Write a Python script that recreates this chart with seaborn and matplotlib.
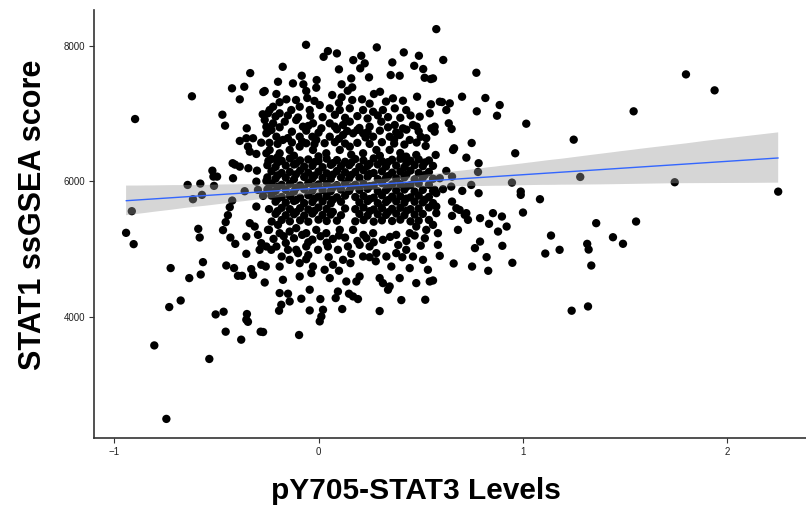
"""
STAT1 ssGSEA score vs pY705-STAT3 levels
========================================

Scatter of per-sample values with a linear fit (95% CI band), styled
after the ggplot2 "classic" look. Writes out.png (806x507 px).
"""

import matplotlib
matplotlib.use("Agg")  # non-interactive backend
import matplotlib.pyplot as plt
import pandas as pd
import seaborn as sns

# --------------------------------------------------------------------------- #
# Data (pY705-STAT3, STAT1 ssGSEA score)
# --------------------------------------------------------------------------- #
far_left = [
    (-0.897, 6922), (-0.913, 5560), (-0.941, 5240), (-0.904, 5073),
    (-0.640, 5948), (-0.578, 5968), (-0.514, 6071), (-0.519, 6159),
    (-0.496, 6071), (-0.511, 5934), (-0.614, 5737), (-0.570, 5801),
    (-0.588, 5299), (-0.581, 5171), (-0.723, 4719), (-0.632, 4571),
    (-0.576, 4624), (-0.565, 4807), (-0.674, 4240), (-0.730, 4143),
    (-0.803, 3576), (-0.744, 2490), (-0.503, 4034), (-0.464, 4074),
    (-0.454, 3779), (-0.378, 3661), (-0.534, 3376), (-0.350, 4040),
    (-0.353, 3956), (-0.345, 3925), (-0.283, 3779), (-0.619, 7258),
]

mid_left = [
    (-0.470, 6986), (-0.457, 6824), (-0.351, 6785), (-0.273, 6992),
    (-0.239, 7055), (-0.385, 6598), (-0.353, 6638), (-0.320, 6638),
    (-0.280, 6573), (-0.345, 6514), (-0.336, 6440), (-0.304, 6406),
    (-0.255, 6416), (-0.255, 6809), (-0.247, 6735), (-0.420, 6269),
    (-0.408, 6248), (-0.385, 6218), (-0.343, 6195), (-0.301, 6159),
    (-0.245, 6303), (-0.418, 6047), (-0.361, 5855), (-0.304, 5997),
    (-0.296, 5875), (-0.255, 6007), (-0.244, 5900), (-0.271, 5786),
    (-0.422, 5717), (-0.434, 5619), (-0.443, 5501), (-0.454, 5398),
    (-0.467, 5280), (-0.431, 5170), (-0.407, 5077), (-0.304, 5628),
    (-0.242, 5590), (-0.229, 5407), (-0.336, 5383), (-0.312, 5333),
    (-0.353, 5185), (-0.296, 5210), (-0.280, 5088), (-0.255, 5038),
    (-0.288, 4989), (-0.231, 4989), (-0.353, 4930), (-0.242, 5284),
    (-0.451, 4757), (-0.413, 4719), (-0.394, 4605), (-0.374, 4605),
    (-0.320, 4620), (-0.329, 4704), (-0.280, 4768), (-0.258, 4742),
    (-0.263, 4506),
]

upper_fringe = [
    (-0.061, 8019), (0.285, 7981), (0.046, 7926), (0.025, 7842),
    (0.090, 7892), (0.170, 7793), (0.209, 7857), (0.226, 7745),
    (0.204, 7671), (0.417, 7907), (0.491, 7857), (0.361, 7759),
    (0.468, 7709), (0.512, 7661), (-0.175, 7694), (0.100, 7656),
    (-0.082, 7562), (-0.198, 7473), (-0.125, 7449), (-0.074, 7435),
    (-0.009, 7498), (-0.011, 7385), (0.160, 7523), (0.113, 7435),
    (0.165, 7390), (0.143, 7340), (0.247, 7538), (0.353, 7572),
    (0.397, 7562), (0.519, 7532), (0.549, 7513), (-0.263, 7336),
    (-0.206, 7292), (-0.157, 7213), (-0.110, 7203), (-0.060, 7336),
    (-0.055, 7233), (0.067, 7277), (0.113, 7243), (0.165, 7203),
    (0.213, 7213), (0.271, 7292), (0.301, 7325), (0.364, 7228),
    (0.413, 7193), (0.482, 7252), (0.593, 7178), (0.576, 8251),
    (0.610, 7795), (0.772, 7606), (0.560, 7523), (0.702, 7252),
    (0.816, 7233), (0.604, 7173), (-0.334, 7601), (-0.423, 7376),
    (-0.363, 7399), (-0.270, 7321), (-0.385, 7213),
]

core_top = [
    (-0.222, 7104), (-0.247, 7007), (-0.190, 7007), (-0.133, 7055),
    (-0.092, 7104), (-0.043, 7055), (0.006, 7129), (0.055, 7080),
    (0.104, 7055), (0.153, 7080), (0.218, 7055), (0.267, 7030),
    (0.315, 7055), (0.373, 7080), (0.429, 7055), (0.495, 6957),
    (0.544, 7007),
    (-0.263, 6908), (-0.222, 6859), (-0.165, 6883), (-0.109, 6908),
    (-0.076, 6809), (-0.027, 6859), (0.014, 6785), (0.055, 6859),
    (0.120, 6834), (0.153, 6883), (0.250, 6809), (0.307, 6883),
    (0.373, 6834), (0.413, 6785), (0.462, 6834), (0.552, 6785),
    (-0.255, 6711), (-0.206, 6661), (-0.174, 6613), (-0.092, 6661),
    (-0.060, 6564), (-0.011, 6613), (0.055, 6661), (0.120, 6686),
    (0.169, 6711), (0.218, 6711), (0.267, 6661), (0.348, 6661),
    (0.397, 6686), (0.446, 6613), (0.527, 6638),
    (-0.239, 6465), (-0.190, 6416), (-0.141, 6465), (-0.092, 6514),
    (-0.027, 6465), (0.038, 6416), (0.104, 6465), (0.153, 6514),
    (0.218, 6416), (0.283, 6465), (0.348, 6465), (0.429, 6366),
    (0.478, 6391), (0.524, 6524),
    (-0.21, 6960), (-0.15, 6975), (-0.10, 6945), (-0.04, 6970),
    (0.02, 6950), (0.08, 6985), (0.13, 6940), (0.19, 6965),
    (0.24, 6930), (0.29, 6975), (0.34, 6950), (0.40, 6940), (0.45, 6975),
    (-0.23, 6760), (-0.13, 6735), (-0.06, 6750), (0.00, 6720),
    (0.09, 6770), (0.14, 6745), (0.19, 6760), (0.24, 6730),
    (0.30, 6750), (0.38, 6725), (0.43, 6765), (0.49, 6740),
    (-0.24, 6570), (-0.20, 6555), (-0.13, 6575), (-0.08, 6590),
    (-0.02, 6550), (0.03, 6565), (0.08, 6580), (0.13, 6560),
    (0.19, 6570), (0.25, 6555), (0.31, 6580), (0.37, 6560),
    (0.42, 6545), (0.48, 6575),
    (-0.19, 7170), (-0.02, 7190), (0.10, 7160), (0.25, 7150),
    (0.33, 7180), (0.55, 7140),
    (-0.19, 6800), (-0.05, 6820), (0.08, 6810), (0.20, 6790),
    (0.34, 6800), (0.48, 6810), (-0.15, 6640), (-0.03, 6660),
    (0.10, 6630), (0.23, 6650), (0.37, 6620), (0.50, 6660),
    (-0.12, 6380), (0.00, 6370), (0.16, 6395), (0.30, 6380),
    (0.40, 6420), (-0.20, 6360),
]

core_mid = [
    # ~6320
    (-0.23, 6330), (-0.18, 6305), (-0.14, 6340), (-0.09, 6310),
    (-0.05, 6325), (0.00, 6300), (0.04, 6335), (0.09, 6315),
    (0.13, 6290), (0.18, 6330), (0.22, 6310), (0.27, 6340),
    (0.31, 6300), (0.36, 6320), (0.40, 6335), (0.45, 6305),
    (0.49, 6325), (0.54, 6310),
    # ~6275
    (-0.20, 6280), (-0.11, 6265), (-0.02, 6285), (0.07, 6270),
    (0.16, 6275), (0.25, 6260), (0.34, 6285), (0.43, 6270), (0.52, 6280),
    # ~6230
    (-0.25, 6240), (-0.21, 6215), (-0.16, 6235), (-0.12, 6250),
    (-0.07, 6220), (-0.03, 6230), (0.02, 6210), (0.06, 6245),
    (0.11, 6225), (0.15, 6240), (0.20, 6215), (0.24, 6230),
    (0.29, 6250), (0.33, 6220), (0.38, 6235), (0.42, 6210),
    (0.47, 6240), (0.51, 6225), (0.56, 6230),
    # ~6140
    (-0.23, 6150), (-0.18, 6125), (-0.14, 6140), (-0.09, 6160),
    (-0.05, 6130), (0.00, 6145), (0.04, 6120), (0.09, 6155),
    (0.13, 6135), (0.18, 6140), (0.22, 6165), (0.27, 6125),
    (0.31, 6150), (0.36, 6130), (0.40, 6145), (0.45, 6160),
    (0.49, 6125), (0.54, 6140),
    # ~6095
    (-0.20, 6090), (-0.11, 6105), (-0.02, 6085), (0.07, 6100),
    (0.16, 6095), (0.25, 6110), (0.34, 6080), (0.43, 6100), (0.52, 6095),
    # ~6050
    (-0.25, 6060), (-0.21, 6040), (-0.16, 6055), (-0.12, 6030),
    (-0.07, 6065), (-0.03, 6045), (0.02, 6050), (0.06, 6035),
    (0.11, 6060), (0.15, 6040), (0.20, 6055), (0.24, 6070),
    (0.29, 6035), (0.33, 6050), (0.38, 6045), (0.42, 6060),
    (0.47, 6030), (0.51, 6055), (0.56, 6040),
    # ~5960
    (-0.23, 5970), (-0.18, 5950), (-0.14, 5965), (-0.09, 5940),
    (-0.05, 5975), (0.00, 5955), (0.04, 5960), (0.09, 5945),
    (0.13, 5970), (0.18, 5950), (0.22, 5965), (0.27, 5940),
    (0.31, 5975), (0.36, 5955), (0.40, 5960), (0.45, 5945),
    (0.49, 5970), (0.54, 5950),
    # ~5915
    (-0.20, 5920), (-0.11, 5905), (-0.02, 5925), (0.07, 5910),
    (0.16, 5915), (0.25, 5930), (0.34, 5905), (0.43, 5920),
    # ~5870
    (-0.25, 5880), (-0.21, 5860), (-0.16, 5875), (-0.12, 5850),
    (-0.07, 5885), (-0.03, 5865), (0.02, 5870), (0.06, 5855),
    (0.11, 5880), (0.15, 5860), (0.20, 5875), (0.24, 5890),
    (0.29, 5855), (0.33, 5870), (0.38, 5865), (0.42, 5880),
    (0.47, 5850), (0.51, 5875), (0.56, 5860),
    # ~5780
    (-0.23, 5790), (-0.18, 5770), (-0.14, 5785), (-0.09, 5760),
    (-0.05, 5795), (0.00, 5775), (0.04, 5780), (0.09, 5765),
    (0.13, 5790), (0.18, 5770), (0.22, 5785), (0.27, 5760),
    (0.31, 5795), (0.36, 5775), (0.40, 5780), (0.45, 5765),
    (0.49, 5790), (0.54, 5770),
    # ~5735
    (-0.20, 5740), (-0.11, 5725), (-0.02, 5745), (0.07, 5730),
    (0.25, 5740), (0.34, 5725), (0.43, 5745), (0.52, 5730),
    # ~5690
    (-0.21, 5700), (-0.16, 5685), (-0.12, 5710), (-0.07, 5680),
    (-0.03, 5695), (0.02, 5705), (0.06, 5675), (0.11, 5700),
    (0.20, 5690), (0.24, 5710), (0.29, 5680), (0.33, 5695),
    (0.38, 5705), (0.42, 5685), (0.47, 5700), (0.51, 5690),
    (0.56, 5680),
    # ~5600
    (-0.18, 5610), (-0.14, 5590), (-0.09, 5605), (-0.05, 5585),
    (0.00, 5615), (0.04, 5595), (0.13, 5600), (0.18, 5590),
    (0.22, 5615), (0.27, 5585), (0.31, 5605), (0.36, 5595),
    (0.40, 5610), (0.45, 5590), (0.49, 5600), (0.54, 5615),
    # ~5555
    (-0.20, 5560), (-0.11, 5545), (-0.02, 5565), (0.07, 5550),
    (0.25, 5560), (0.34, 5545), (0.43, 5565),
    # ~5510
    (-0.21, 5520), (-0.16, 5500), (-0.12, 5515), (-0.07, 5495),
    (-0.03, 5525), (0.02, 5505), (0.06, 5510), (0.11, 5500),
    (0.20, 5520), (0.24, 5495), (0.29, 5515), (0.33, 5505),
    (0.38, 5525), (0.42, 5500), (0.47, 5510), (0.51, 5520),
    # ~5420
    (-0.18, 5430), (-0.14, 5410), (-0.09, 5425), (-0.05, 5405),
    (0.00, 5435), (0.04, 5415), (0.09, 5420), (0.18, 5410),
    (0.22, 5430), (0.27, 5405), (0.31, 5425), (0.36, 5415),
    (0.40, 5435), (0.45, 5410), (0.49, 5420), (0.54, 5430),
]

lower_core = [
    (-0.247, 5284), (-0.198, 5358), (-0.190, 5235), (-0.141, 5259),
    (-0.109, 5309), (-0.060, 5235), (-0.011, 5284), (0.038, 5235),
    (0.104, 5284), (0.169, 5284), (0.234, 5161), (0.267, 5235),
    (0.315, 5137), (0.380, 5210), (0.446, 5235), (0.478, 5333),
    (0.527, 5284), (0.584, 5235),
    (-0.17, 5190), (-0.08, 5210), (0.01, 5190), (0.10, 5200),
    (0.22, 5210), (0.35, 5180), (0.47, 5200),
    (-0.22, 5150), (-0.12, 5160), (-0.03, 5140), (0.07, 5150),
    (0.13, 5170), (0.19, 5120), (0.43, 5120), (0.52, 5160),
    (-0.16, 5090), (-0.05, 5100), (0.04, 5095), (0.27, 5100),
    (0.39, 5060), (0.50, 5050),
    (-0.206, 5038), (-0.149, 4989), (-0.109, 4989), (-0.060, 5038),
    (-0.002, 4989), (0.046, 5038), (0.095, 4989), (0.144, 5038),
    (0.201, 5063), (0.250, 5038), (0.283, 4940), (0.332, 4890),
    (0.380, 4940), (0.429, 4989), (0.462, 4890), (0.511, 4841),
    (-0.18, 4890), (-0.05, 4910), (0.05, 4880), (0.16, 4930),
    (0.25, 4880), (-0.10, 4940), (0.41, 4880),
    (-0.190, 4742), (-0.141, 4841), (-0.092, 4792), (-0.027, 4742),
    (0.030, 4694), (0.071, 4768), (0.120, 4841), (0.156, 4792),
    (0.218, 4890), (0.356, 4742), (0.446, 4719), (0.535, 4694),
    (-0.06, 4850), (0.28, 4820), (0.10, 4680),
    (-0.174, 4546), (-0.092, 4595), (-0.035, 4645), (0.055, 4571),
    (0.136, 4521), (0.185, 4521), (0.201, 4595), (0.299, 4571),
    (0.315, 4497), (0.348, 4448), (0.397, 4571), (0.478, 4497),
    (0.544, 4521),
]

lower_fringe = [
    (-0.190, 4350), (-0.149, 4340), (-0.141, 4226), (-0.182, 4177),
    (-0.193, 4089), (-0.084, 4266), (-0.043, 4093), (0.009, 4261),
    (0.022, 4103), (0.014, 4004), (0.006, 3931), (0.084, 4276),
    (0.095, 4373), (0.116, 4114), (0.149, 4340), (0.169, 4300),
    (0.193, 4261), (-0.043, 4399), (-0.271, 3774), (-0.095, 3730),
    (0.299, 4084), (0.405, 4246), (0.522, 4251), (0.340, 4399),
]

right_mid = [
    (0.625, 7055), (0.642, 7154), (0.886, 7129), (0.774, 7036),
    (0.873, 6971), (1.016, 6853), (1.248, 6617), (0.637, 6859),
    (0.651, 6775), (0.568, 6809), (0.568, 6735), (0.749, 6568),
    (0.663, 6490), (0.573, 6391), (0.723, 6351), (0.962, 6416),
    (0.658, 6465), (0.783, 6269), (0.780, 6140), (0.625, 6155),
    (0.653, 6071), (0.593, 6047), (0.747, 5948), (0.946, 5982),
    (0.568, 5875), (0.609, 5885), (0.649, 5923), (0.703, 5860),
    (0.783, 5826), (0.576, 5826), (0.989, 5850), (0.989, 5801),
    (1.083, 5737), (0.653, 5702), (0.674, 5604), (0.690, 5579),
    (0.723, 5531), (0.731, 5432), (0.715, 5506), (0.653, 5491),
    (0.576, 5628), (0.576, 5531), (0.790, 5457), (0.853, 5531),
    (0.897, 5481), (1.000, 5540), (0.834, 5373), (0.878, 5259),
    (0.920, 5333), (0.682, 5284), (0.560, 5358), (0.790, 5111),
    (0.765, 5014), (0.899, 5048), (0.584, 5063), (0.593, 4900),
    (0.661, 4787), (0.751, 4742), (0.822, 4881), (0.830, 4679),
    (0.948, 4797), (0.560, 4536),
]

far_right = [
    (1.137, 5200), (1.179, 4989), (1.109, 4934), (1.314, 5077),
    (1.321, 4993), (1.334, 4757), (1.440, 5175), (1.280, 6066),
    (1.358, 5383), (1.238, 4089), (1.318, 4152), (1.742, 5988),
    (2.248, 5849), (1.553, 5407), (1.489, 5078), (1.797, 7582),
    (1.937, 7346), (1.541, 7036),
]

X_COL = "pY705-STAT3 Levels"
Y_COL = "STAT1 ssGSEA score"
X_TICKS = [-1, 0, 1, 2]
Y_TICKS = [4000, 6000, 8000]

# --------------------------------------------------------------------------- #
# Plot
# --------------------------------------------------------------------------- #
groups = [far_left, mid_left, upper_fringe, core_top, core_mid,
          lower_core, lower_fringe, right_mid, far_right]
df = pd.DataFrame([p for g in groups for p in g], columns=[X_COL, Y_COL])

sns.set_theme(style="ticks")
plt.rcParams["font.family"] = ["Liberation Sans", "DejaVu Sans"]

fig = plt.figure(figsize=(8.06, 5.07), dpi=100)
ax = fig.add_axes([0.1166, 0.136, 0.8834, 0.845])

sns.scatterplot(data=df, x=X_COL, y=Y_COL, color="black", s=36,
                edgecolor="none", linewidth=0, legend=False, ax=ax, zorder=2)
sns.regplot(data=df, x=X_COL, y=Y_COL, scatter=False, ci=95, seed=3,
            color="#3366FF", line_kws={"lw": 1.0, "zorder": 4}, ax=ax)

# grey ribbon drawn over the points, like geom_smooth
band = ax.collections[-1]
band.set_facecolor("#999999")
band.set_edgecolor("none")
band.set_alpha(0.4)
band.set_zorder(3)

ax.set_xlim(-1.098, 2.384)
ax.set_ylim(2207, 8539)
ax.set_xticks(X_TICKS)
ax.set_yticks(Y_TICKS)
ax.tick_params(axis="both", length=3.5, width=0.8, color="#333333",
               labelsize=7, labelcolor="#222222", pad=3)

for side in ("top", "right"):
    ax.spines[side].set_visible(False)
for side in ("left", "bottom"):
    ax.spines[side].set_color("#333333")
    ax.spines[side].set_linewidth(1.2)

ax.set_xlabel(X_COL, fontsize=21.5, fontweight="bold", color="black", labelpad=14)
ax.set_ylabel(Y_COL, fontsize=22, fontweight="bold", color="black", labelpad=11)
ax.xaxis.label.set_x(0.452)
ax.yaxis.label.set_y(0.52)

fig.savefig("out.png", dpi=100)
plt.close(fig)
